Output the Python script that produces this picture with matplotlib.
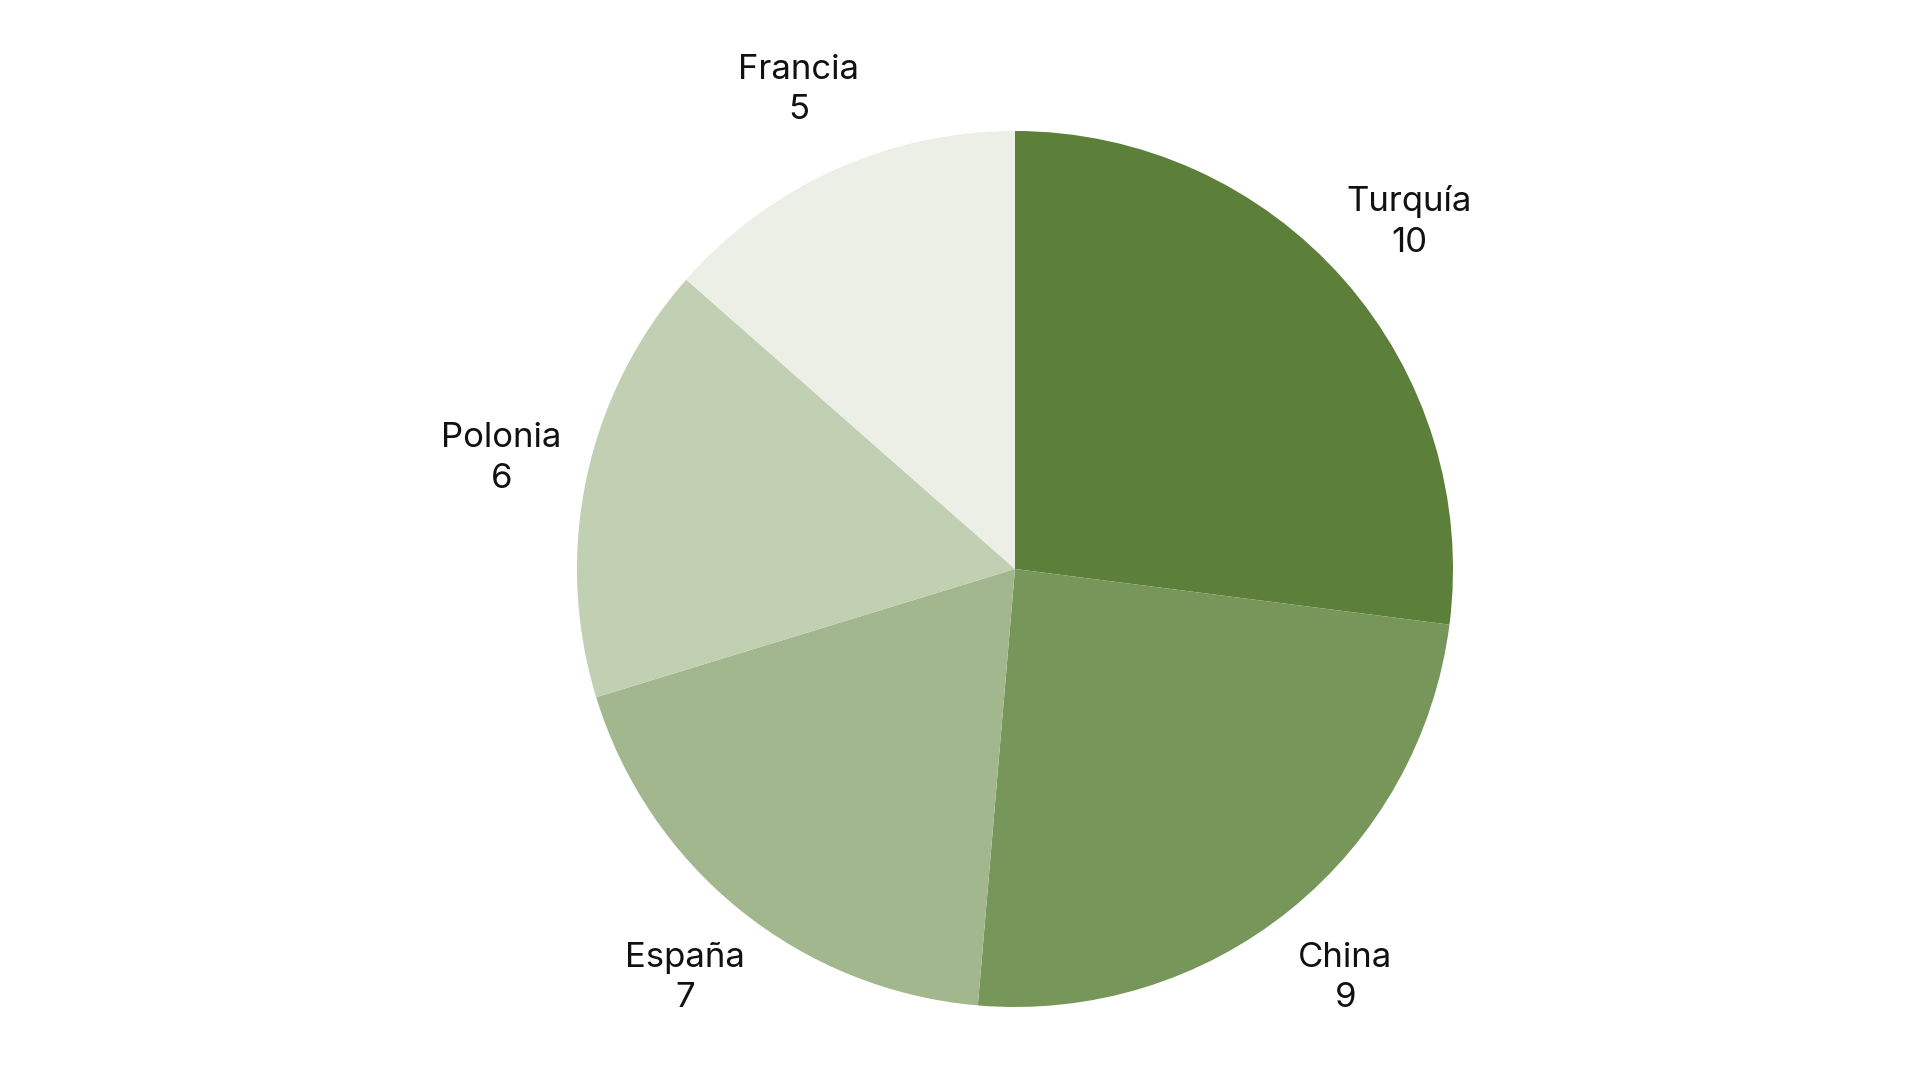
import matplotlib.pyplot as plt

# datos
paises = ['Turquía', 'China', 'España', 'Polonia', 'Francia']
valores = [10, 9, 7, 6, 5]
colores = ['#5c7f39', '#779659', '#a2b78e', '#c1cfb3', '#ebefe5']

plt.rcParams['font.family'] = ['Inter', 'DejaVu Sans']

fig = plt.figure(figsize=(19.2, 10.8), dpi=100)
ax = fig.add_axes([0, 0, 1, 1])

etiquetas = [p + '\n' + str(v) for p, v in zip(paises, valores)]
wedges, texts = ax.pie(valores, labels=etiquetas, colors=colores,
                       startangle=90, counterclock=False,
                       labeldistance=1.2, radius=1.0,
                       textprops={'fontsize': 25, 'color': '#111111'})
for t in texts:
    t.set_ha('center')
    t.set_va('center')
    t.set_linespacing(1.35)

ax.set_aspect('equal')
# centro en (1015, 569) px, radio ~438 px
r_px = 438
ax.set_xlim(-1015 / r_px, (1920 - 1015) / r_px)
ax.set_ylim(-(1080 - 569) / r_px, 569 / r_px)
ax.axis('off')

fig.savefig('out.png', dpi=100)
